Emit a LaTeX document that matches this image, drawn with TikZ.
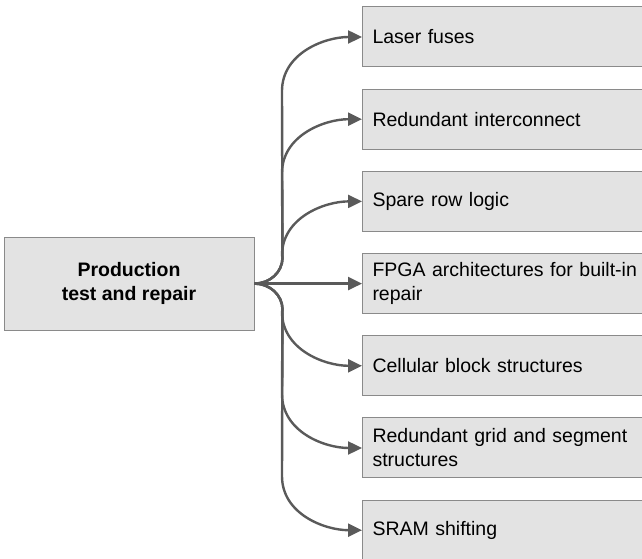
\documentclass[tikz,border=0pt]{standalone}
\usepackage{fontspec}
\setmainfont{Liberation Sans}
\usetikzlibrary{arrows.meta,calc}
\definecolor{boxfill}{HTML}{E3E3E3}
\definecolor{boxline}{HTML}{8A8A8A}
\definecolor{arrcol}{HTML}{5A5A5A}
\begin{document}
\begin{tikzpicture}[x=1pt,y=1pt,
  rbox/.style={draw=boxline, fill=boxfill, line width=1pt, minimum height=60pt,
    anchor=west, text width=300pt, align=left, inner xsep=10pt, inner ysep=0pt,
    font=\fontsize{19.5}{24}\selectfont},
  lbox/.style={draw=boxline, fill=boxfill, line width=1pt, minimum width=250pt,
    minimum height=93pt, align=center, inner sep=0pt,
    font=\fontsize{19.5}{24}\selectfont\bfseries},
  conn/.style={draw=arrcol, line width=2.4pt, -{Triangle[length=14pt,width=13pt]}}
]
\useasboundingbox (0,0) rectangle (642,559);
\node[lbox] (P) at (129,275.4) {Production\\test and repair};
\node[rbox] (t1) at (362,522.0) {Laser fuses};
\node[rbox] (t2) at (362,439.8) {Redundant interconnect};
\node[rbox] (t3) at (362,357.6) {Spare row logic};
\node[rbox] (t4) at (362,275.4) {FPGA architectures for built-in\\repair};
\node[rbox] (t5) at (362,193.2) {Cellular block structures};
\node[rbox] (t6) at (362,111.0) {Redundant grid and segment\\structures};
\node[rbox] (t7) at (362,28.8) {SRAM shifting};
% upward connectors
\foreach \t in {t1,t2,t3}{
  \draw[conn] (P.east) to[out=0,in=-90] ++(28,26) -- ($(\t.west)+(-80,-54)$) to[out=90,in=180] (\t.west);
}
% straight
\draw[conn] (P.east) -- (t4.west);
% downward connectors
\foreach \t in {t5,t6,t7}{
  \draw[conn] (P.east) to[out=0,in=90] ++(28,-26) -- ($(\t.west)+(-80,54)$) to[out=-90,in=180] (\t.west);
}
\end{tikzpicture}
\end{document}
